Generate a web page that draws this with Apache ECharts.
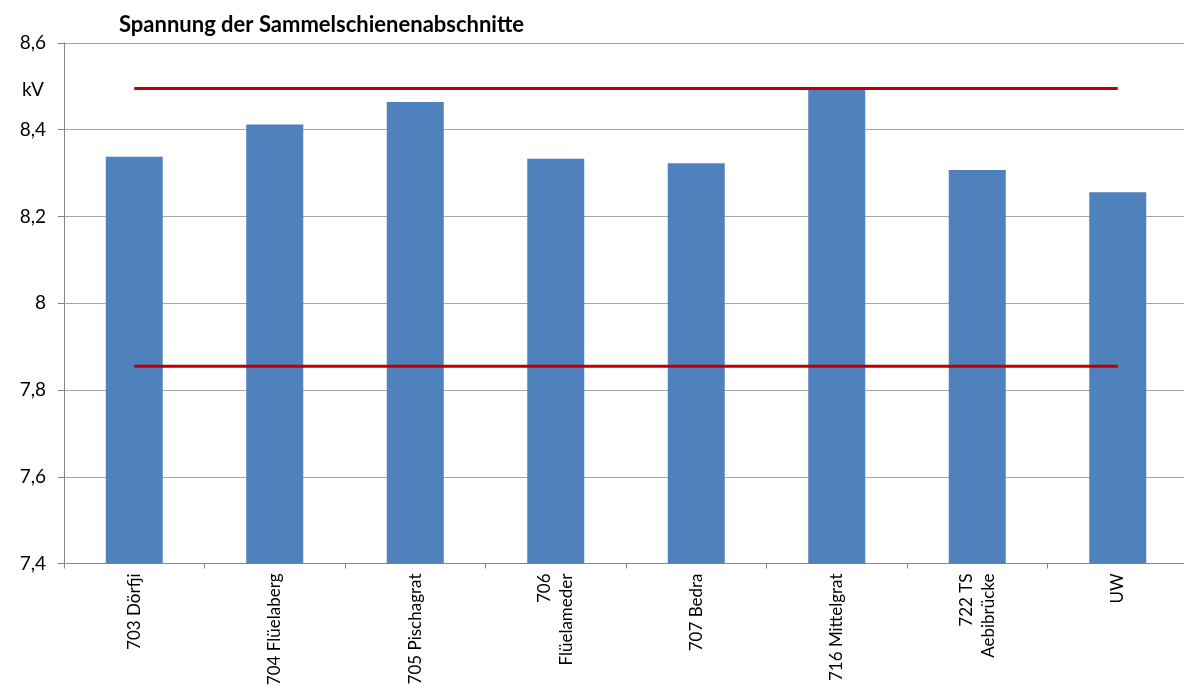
<!DOCTYPE html>
<html>
<head>
<meta charset="utf-8">
<script src="https://cdn.jsdelivr.net/npm/echarts@6/dist/echarts.min.js"></script>
<style>html,body{margin:0;padding:0;background:#fff;overflow:hidden;width:1184px;height:698px;}#c{width:1188px;height:698px;}</style>
</head>
<body>
<div id="c"></div>
<script>
const categories = ['703 Dörfji','704 Flüelaberg','705 Pischagrat','706\nFlüelameder','707 Bedra','716 Mittelgrat','722 TS\nAebibrücke','UW'];
const voltages = [8.338, 8.412, 8.464, 8.333, 8.323, 8.494, 8.307, 8.256];
const upperLimit = [8.495, 8.495, 8.495, 8.495, 8.495, 8.495, 8.495, 8.495];
const lowerLimit = [7.855, 7.855, 7.855, 7.855, 7.855, 7.855, 7.855, 7.855];
const yTicks = {min: 7.4, max: 8.6, interval: 0.2};

const chart = echarts.init(document.getElementById('c'));
const font = 'Lato, "Open Sans", sans-serif';
chart.setOption({
  animation: false,
  title: [
    {text: 'Spannung der Sammelschienenabschnitte', left: 114, top: 9,
     textStyle: {fontFamily: font, fontWeight: 'bold', fontSize: 22, color: '#000'}},
    {text: 'kV', left: 17, top: 75,
     textStyle: {fontFamily: font, fontWeight: 'normal', fontSize: 19, color: '#000'}}
  ],
  grid: {left: 64, top: 43, right: 0, height: 520.5, containLabel: false},
  xAxis: {
    type: 'category', data: categories,
    axisLine: {lineStyle: {color: '#868686', width: 1}},
    axisTick: {show: true, length: 5, lineStyle: {color: '#868686'}},
    axisLabel: {rotate: 90, margin: 10, fontFamily: font, fontSize: 17, color: '#000', lineHeight: 22, interval: 0}
  },
  yAxis: {
    type: 'value', min: yTicks.min, max: yTicks.max, interval: yTicks.interval,
    axisLine: {show: true, lineStyle: {color: '#868686'}},
    axisTick: {show: true, length: 6, lineStyle: {color: '#868686'}},
    splitLine: {lineStyle: {color: '#a6a6a6', width: 1}},
    axisLabel: {fontFamily: font, fontSize: 19, color: '#000', margin: 18,
      formatter: v => (Math.round(v*10)/10).toString().replace('.', ',')}
  },
  series: [
    {type: 'bar', data: voltages, barWidth: 57, itemStyle: {color: '#4F81BD'}},
    {type: 'line', data: upperLimit, symbol: 'none', lineStyle: {color: '#C00000', width: 3}},
    {type: 'line', data: lowerLimit, symbol: 'none', lineStyle: {color: '#C00000', width: 3}}
  ]
});
</script>
</body>
</html>
